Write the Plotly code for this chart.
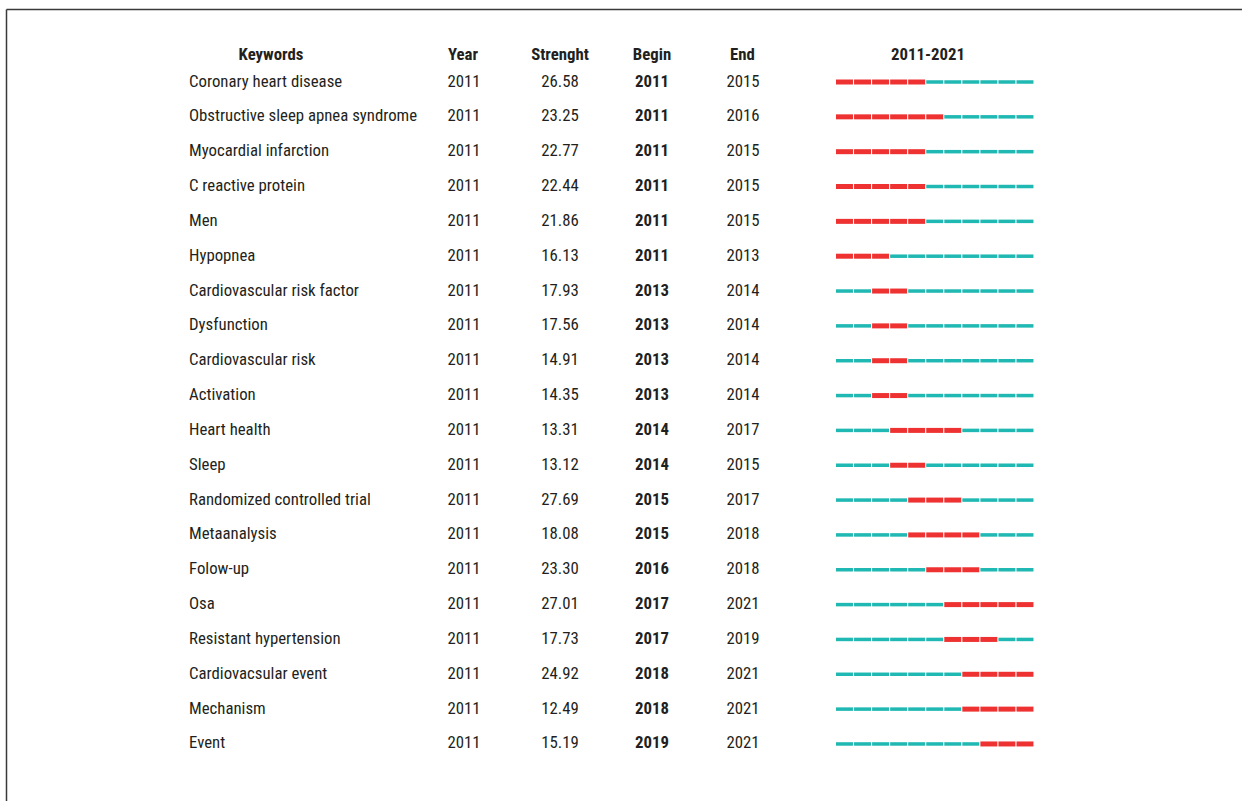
import plotly.graph_objects as go

keywords = ["Coronary heart disease", "Obstructive sleep apnea syndrome", "Myocardial infarction",
            "C reactive protein", "Men", "Hypopnea", "Cardiovascular risk factor", "Dysfunction",
            "Cardiovascular risk", "Activation", "Heart health", "Sleep", "Randomized controlled trial",
            "Metaanalysis", "Folow-up", "Osa", "Resistant hypertension", "Cardiovacsular event",
            "Mechanism", "Event"]
year = [2011] * 20
strength = [26.58, 23.25, 22.77, 22.44, 21.86, 16.13, 17.93, 17.56, 14.91, 14.35,
            13.31, 13.12, 27.69, 18.08, 23.30, 27.01, 17.73, 24.92, 12.49, 15.19]
begin = [2011, 2011, 2011, 2011, 2011, 2011, 2013, 2013, 2013, 2013,
         2014, 2014, 2015, 2015, 2016, 2017, 2017, 2018, 2018, 2019]
end = [2015, 2016, 2015, 2015, 2015, 2013, 2014, 2014, 2014, 2014,
       2017, 2015, 2017, 2018, 2018, 2021, 2019, 2021, 2021, 2021]
headers = ["Keywords", "Year", "Strenght", "Begin", "End", "2011-2021"]
period_start, period_end = 2011, 2021

W, H = 1242, 801
FONT = "Roboto Condensed, Liberation Sans Narrow, sans-serif"
TXT = "#231f20"
FS = 16.8

rows = list(range(len(keywords)))
text_rows = [r + 0.01 for r in rows]
fig = go.Figure()


def col(x, texts, pos="middle center", bold=False):
    fig.add_trace(go.Scatter(
        x=[x] * len(texts), y=text_rows, mode="text",
        text=[f"<b>{t}</b>" if bold else str(t) for t in texts],
        textposition=pos, textfont=dict(family=FONT, size=FS, color=TXT),
        hoverinfo="skip", showlegend=False, cliponaxis=False))


col(189, keywords, "middle right")
col(464, year)
col(560, [f"{s:.2f}" for s in strength])
col(652, begin, bold=True)
col(743, end)

hdr_x = [271, 463, 560, 652, 742.5, 928]
fig.add_trace(go.Scatter(
    x=hdr_x, y=[-0.76] * len(headers), mode="text",
    text=[f"<b>{h}</b>" for h in headers], textposition="middle center",
    textfont=dict(family=FONT, size=FS, color=TXT),
    hoverinfo="skip", showlegend=False, cliponaxis=False))

# timeline segments
gap = 0.06
tx, ty, rx, ry = [], [], [], []
for i in rows:
    for yr in range(period_start, period_end + 1):
        if begin[i] <= yr <= end[i]:
            rx += [yr, yr + 1 - gap, None]
            ry += [i, i, None]
        else:
            tx += [yr, yr + 1 - gap, None]
            ty += [i, i, None]

fig.add_trace(go.Scatter(x=tx, y=ty, mode="lines", xaxis="x2", yaxis="y",
                         line=dict(color="#1fb8b2", width=3.5),
                         hoverinfo="skip", showlegend=False, connectgaps=False))
fig.add_trace(go.Scatter(x=rx, y=ry, mode="lines", xaxis="x2", yaxis="y",
                         line=dict(color="#ee3232", width=5),
                         hoverinfo="skip", showlegend=False, connectgaps=False))

r_top = -82 / 34.84
r_bot = r_top + H / 34.84
fig.update_layout(
    width=W, height=H, margin=dict(l=0, r=0, t=0, b=0),
    paper_bgcolor="white", plot_bgcolor="rgba(0,0,0,0)",
    xaxis=dict(range=[0, W], domain=[0, 1], visible=False, fixedrange=True),
    xaxis2=dict(range=[period_start, period_end + 1 - gap / 2],
                domain=[836 / W, 1034 / W], visible=False, anchor="y"),
    yaxis=dict(range=[r_bot, r_top], visible=False),
    shapes=[
        dict(type="line", xref="paper", yref="paper", x0=6.5 / W, x1=1, y0=1 - 9.5 / H, y1=1 - 9.5 / H,
             line=dict(color="#3a3a3a", width=1.5)),
        dict(type="line", xref="paper", yref="paper", x0=6.5 / W, x1=6.5 / W, y0=0, y1=1 - 9.5 / H,
             line=dict(color="#3a3a3a", width=1.5)),
    ],
)

fig.write_html("out.html")
